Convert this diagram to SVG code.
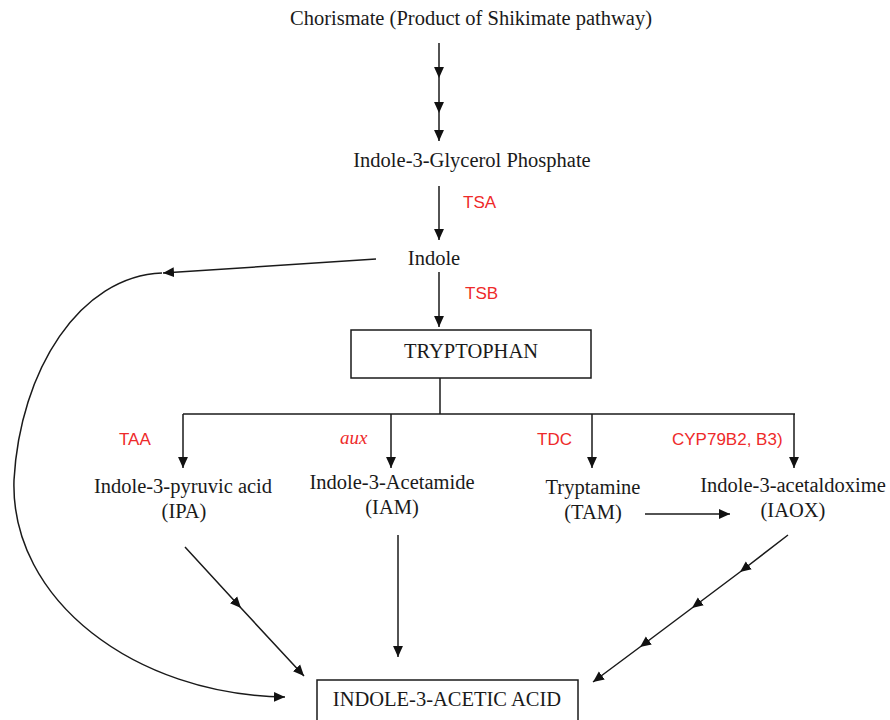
<svg xmlns="http://www.w3.org/2000/svg" width="890" height="720" viewBox="0 0 890 720">
<defs>
<marker id="ah" viewBox="0 0 10 10" refX="10" refY="5" markerWidth="11" markerHeight="11" markerUnits="userSpaceOnUse" orient="auto">
<path d="M0,0.5 L10,5 L0,9.5 Z" fill="#111"/>
</marker>
<style>
.t{font-family:"Liberation Serif","Times New Roman",serif;font-size:20.5px;fill:#1a1a1a;text-anchor:middle}
.r{font-family:"Liberation Sans",Arial,sans-serif;font-size:17px;fill:#ee2a2a}
.ri{font-family:"Liberation Serif","Times New Roman",serif;font-size:19px;font-style:italic;fill:#ee2a2a}
.c{fill:none;stroke:#1a1a1a;stroke-width:1.5}
.a{fill:none;stroke:#1a1a1a;stroke-width:1.5;marker-end:url(#ah)}
.m{fill:none;stroke:#1a1a1a;stroke-width:1.5;marker-mid:url(#ah);marker-end:url(#ah)}
.box{fill:#fff;stroke:#1a1a1a;stroke-width:1.5}
</style>
</defs>
<rect width="890" height="720" fill="#fff"/>
<g id="connectors">
<polyline class="m" points="439,43 439,78 439,113 439,141"/>
<line class="a" x1="439" y1="186" x2="439" y2="240"/>
<line class="a" x1="439" y1="272" x2="439" y2="327"/>
<line class="a" x1="376" y1="259" x2="163" y2="273"/>
<path class="a" d="M162,273 C80,276 20,370 14,480 C10,600 135,695 285,697"/>
<line class="c" x1="440" y1="378" x2="440" y2="414"/>
<line class="c" x1="183" y1="414" x2="795" y2="414"/>
<line class="a" x1="183" y1="414" x2="183" y2="468"/>
<line class="a" x1="391" y1="414" x2="391" y2="468"/>
<line class="a" x1="592" y1="414" x2="592" y2="468"/>
<line class="a" x1="794" y1="414" x2="794" y2="468"/>
<line class="a" x1="645" y1="514" x2="730" y2="514"/>
<polyline class="m" points="185,547 241,608 304,676"/>
<line class="a" x1="398" y1="535" x2="398" y2="657"/>
<polyline class="m" points="788,535 740,572 692,608 640,647 593,682"/>
</g>
<g id="chorismate"><text class="t" x="471" y="25">Chorismate (Product of Shikimate pathway)</text></g>
<g id="igp"><text class="t" x="472" y="167">Indole-3-Glycerol Phosphate</text></g>
<g id="tsa"><text class="r" x="463" y="208">TSA</text></g>
<g id="indole"><text class="t" x="434" y="265">Indole</text></g>
<g id="tsb"><text class="r" x="465" y="299">TSB</text></g>
<g id="tryptophan"><rect class="box" x="351" y="330" width="240" height="48"/><text class="t" x="471" y="358">TRYPTOPHAN</text></g>
<g id="taa"><text class="r" x="119" y="445">TAA</text></g>
<g id="aux"><text class="ri" x="340" y="444">aux</text></g>
<g id="tdc"><text class="r" x="537" y="445">TDC</text></g>
<g id="cyp"><text class="r" x="672" y="445">CYP79B2, B3)</text></g>
<g id="ipa"><text class="t" x="183" y="493">Indole-3-pyruvic acid</text><text class="t" x="184" y="518">(IPA)</text></g>
<g id="iam"><text class="t" x="392" y="489">Indole-3-Acetamide</text><text class="t" x="392" y="514">(IAM)</text></g>
<g id="tam"><text class="t" x="593" y="494">Tryptamine</text><text class="t" x="593" y="519">(TAM)</text></g>
<g id="iaox"><text class="t" x="793" y="492">Indole-3-acetaldoxime</text><text class="t" x="793" y="517">(IAOX)</text></g>
<g id="iaa"><rect class="box" x="317" y="680" width="261" height="60"/><text class="t" x="447" y="706">INDOLE-3-ACETIC ACID</text></g>
</svg>
